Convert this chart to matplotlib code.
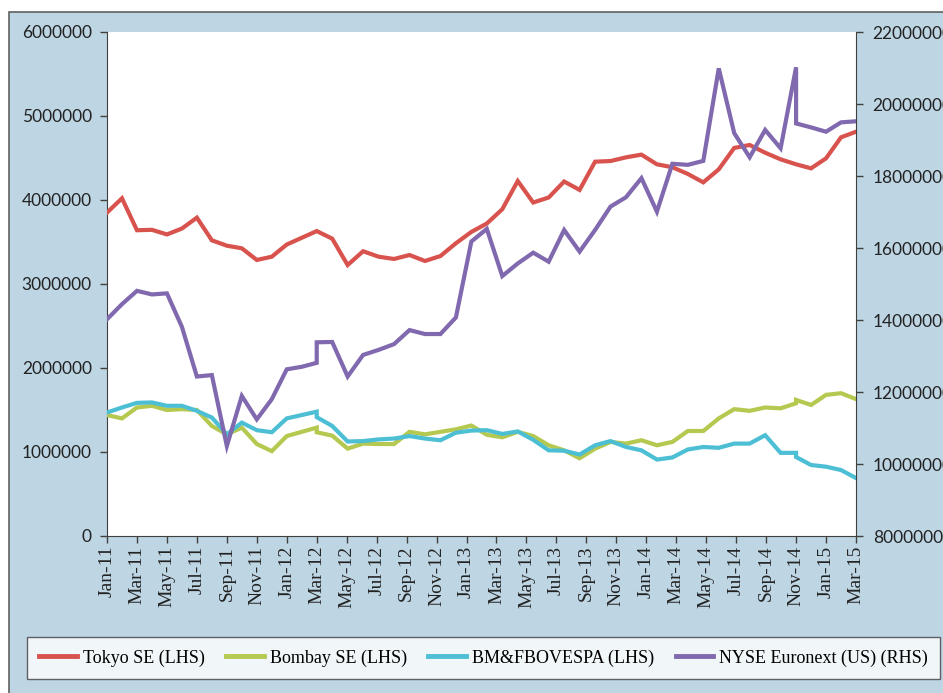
import numpy as np
import matplotlib
matplotlib.use("Agg")
import matplotlib.pyplot as plt
from matplotlib.patches import Rectangle

# ---------------- data ----------------
tick_labels = ["Jan-11", "Mar-11", "May-11", "Jul-11", "Sep-11", "Nov-11",
               "Jan-12", "Mar-12", "May-12", "Jul-12", "Sep-12", "Nov-12",
               "Jan-13", "Mar-13", "May-13", "Jul-13", "Sep-13", "Nov-13",
               "Jan-14", "Mar-14", "May-14", "Jul-14", "Sep-14", "Nov-14",
               "Jan-15", "Mar-15"]

# x positions in months since Jan-11: monthly to Mar-12, then 32 evenly spaced
# observations Mar-12 .. Nov-14, then monthly Nov-14 .. Mar-15
x_seg1 = np.arange(0, 15)
x_seg2 = np.linspace(14, 46, 32)
x_seg3 = np.arange(46, 51)
x_all = np.concatenate([x_seg1, x_seg2, x_seg3])

tokyo = [3850000, 4020000, 3640000, 3645000, 3590000, 3660000, 3790000, 3520000,
         3456000, 3425000, 3286000, 3325000, 3470000, 3550000, 3630000,
         3630000, 3540000, 3226000, 3390000, 3325000, 3298000, 3345000, 3274000,
         3333000, 3485000, 3620000, 3720000, 3890000, 4226000, 3970000, 4030000,
         4220000, 4120000, 4456000, 4464000, 4508000, 4540000, 4425000, 4390000,
         4310000, 4210000, 4365000, 4620000, 4655000, 4563000, 4484000, 4425000,
         4425000, 4377000, 4496000, 4746000, 4813000]

bombay = [1440000, 1400000, 1530000, 1550000, 1500000, 1510000, 1500000, 1310000,
          1210000, 1290000, 1095000, 1010000, 1190000, 1240000, 1290000,
          1235000, 1195000, 1040000, 1100000, 1095000, 1095000, 1240000, 1210000,
          1240000, 1270000, 1315000, 1205000, 1175000, 1240000, 1190000, 1080000,
          1020000, 925000, 1040000, 1120000, 1100000, 1140000, 1080000, 1120000,
          1250000, 1250000, 1400000, 1510000, 1490000, 1530000, 1520000, 1580000,
          1620000, 1560000, 1680000, 1700000, 1630000]

bovespa = [1470000, 1530000, 1585000, 1590000, 1550000, 1550000, 1490000, 1410000,
           1210000, 1350000, 1260000, 1235000, 1400000, 1440000, 1480000,
           1415000, 1310000, 1125000, 1130000, 1150000, 1160000, 1190000, 1160000,
           1140000, 1230000, 1255000, 1260000, 1215000, 1245000, 1145000, 1020000,
           1015000, 970000, 1080000, 1130000, 1060000, 1020000, 910000, 935000,
           1030000, 1060000, 1050000, 1100000, 1100000, 1200000, 990000, 990000,
           940000, 845000, 825000, 785000, 690000]

nyse = [14020000, 14440000, 14810000, 14710000, 14740000, 13810000, 12430000, 12470000,
        10500000, 11890000, 11240000, 11800000, 12630000, 12700000, 12810000,
        13380000, 13390000, 12430000, 13030000, 13170000, 13330000, 13720000, 13610000,
        13610000, 14070000, 16180000, 16530000, 15220000, 15570000, 15870000, 15620000,
        16500000, 15900000, 16500000, 17150000, 17410000, 17940000, 17010000, 18340000,
        18310000, 18420000, 20990000, 19190000, 18520000, 19280000, 18770000, 21020000,
        19460000, 19350000, 19230000, 19490000, 19520000]

series_names = ["Tokyo SE (LHS)", "Bombay SE (LHS)", "BM&FBOVESPA (LHS)",
                "NYSE Euronext (US) (RHS)"]
colors = ["#D9534E", "#B5C84F", "#4DBFD5", "#8069AE"]

# ---------------- figure ----------------
W, H = 943, 693
BG = "#BED5E3"
fig = plt.figure(figsize=(W / 100, H / 100), dpi=100)
fig.patch.set_facecolor("white")
bg_rect = Rectangle((9 / W, -0.05), 1.2, 1 - 12 / H + 0.05,
                    transform=fig.transFigure, facecolor=BG,
                    edgecolor="#606060", lw=1.2, zorder=-10)
fig.add_artist(bg_rect)

ax = fig.add_axes([107 / W, 1 - 536 / H, (856 - 107) / W, (536 - 32) / H])
ax.set_facecolor("white")
ax2 = ax.twinx()

lw = 3.0
h1, = ax.plot(x_all, tokyo, color=colors[0], lw=lw, solid_joinstyle="miter", zorder=3)
h2, = ax.plot(x_all, bombay, color=colors[1], lw=lw, solid_joinstyle="miter", zorder=3)
h3, = ax.plot(x_all, bovespa, color=colors[2], lw=lw, solid_joinstyle="miter", zorder=4)
h4, = ax2.plot(x_all, nyse, color=colors[3], lw=lw, solid_joinstyle="miter", zorder=5)

ax.set_xlim(0, 50)
ax.set_ylim(0, 6000000)
ax2.set_ylim(8000000, 22000000)

spine_c = "#404040"
for a in (ax, ax2):
    a.spines["top"].set_visible(False)
ax.spines["right"].set_visible(False)
ax2.spines["left"].set_visible(False)
ax2.spines["bottom"].set_visible(False)
ax.spines["left"].set_color(spine_c)
ax.spines["bottom"].set_color(spine_c)
ax2.spines["right"].set_color(spine_c)

ax.set_xticks(np.arange(0, 51, 2))
ax.set_xticklabels(tick_labels, rotation=90, fontfamily="Liberation Serif",
                   fontsize=14, color="#222222")
ax.set_yticks(np.arange(0, 6000001, 1000000))
ax.set_yticklabels([f"{int(v)}" for v in np.arange(0, 6000001, 1000000)],
                   fontfamily="Lato", fontsize=12.5, color="#222222")
ax2.set_yticks(np.arange(8000000, 22000001, 2000000))
ax2.set_yticklabels([f"{int(v)}" for v in np.arange(8000000, 22000001, 2000000)],
                    fontfamily="Lato", fontsize=12.5, color="#222222")

ax.tick_params(axis="x", direction="out", length=5, width=1, color=spine_c, pad=2)
ax.tick_params(axis="y", direction="out", length=5, width=1, color=spine_c, pad=6)
ax2.tick_params(axis="y", direction="out", length=5, width=1, color=spine_c, pad=7)

leg = fig.legend([h1, h2, h3, h4], series_names, loc="center",
                 bbox_to_anchor=(483.5 / W, 1 - 658 / H), ncol=4,
                 frameon=True, fancybox=False, handlelength=2.1,
                 handletextpad=0.3, columnspacing=1.2, borderpad=0.7,
                 prop={"family": "Liberation Serif", "size": 13})
leg.get_frame().set_edgecolor("#404040")
leg.get_frame().set_linewidth(1.0)
leg.get_frame().set_facecolor("white")
for line in leg.get_lines():
    line.set_linewidth(3.5)

fig.savefig("out.png", dpi=100, facecolor=fig.get_facecolor())
